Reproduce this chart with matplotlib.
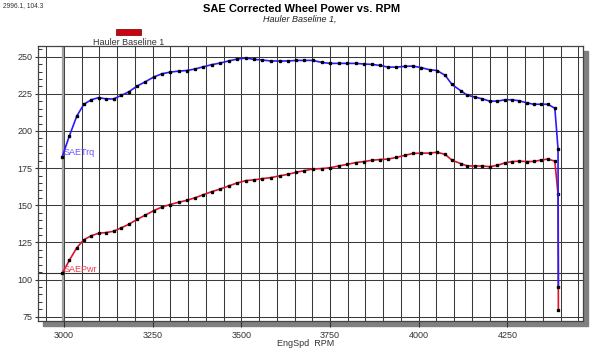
"""SAE corrected wheel power and torque vs engine speed."""

import matplotlib
matplotlib.use("Agg")
import matplotlib.pyplot as plt
from matplotlib.patches import Rectangle
from matplotlib.ticker import MultipleLocator

plt.rcParams["font.family"] = ["Liberation Sans", "DejaVu Sans"]

# Data
rpm = [2995, 3015, 3036, 3056, 3077, 3098, 3118, 3140, 3162, 3183,
       3206, 3229, 3253, 3276, 3299, 3323, 3346, 3369, 3393, 3416,
       3440, 3464, 3488, 3513, 3536, 3559, 3583, 3608, 3631, 3655,
       3678, 3701, 3728, 3751, 3775, 3798, 3822, 3845, 3869, 3891,
       3914, 3937, 3961, 3984, 4008, 4031, 4052, 4075, 4094, 4118,
       4137, 4159, 4180, 4200, 4222, 4243, 4263, 4284, 4305, 4324,
       4345, 4364, 4384, 4393, 4394]

sae_trq = [182.6, 196.6, 210.0, 218.0, 221.0, 222.5, 221.6, 221.6, 224.0, 226.4,
           230.2, 233.1, 236.3, 238.5, 239.6, 240.3, 240.7, 241.7, 243.2, 244.6,
           245.7, 247.1, 248.4, 249.1, 248.2, 247.8, 247.1, 247.1, 247.1, 247.5,
           247.5, 247.5, 246.1, 245.5, 245.5, 245.5, 245.5, 245.1, 244.8, 244.1,
           243.0, 243.0, 243.5, 243.7, 242.6, 241.2, 240.7, 237.4, 231.3, 227.2,
           224.1, 222.8, 221.6, 220.1, 220.1, 221.0, 221.0, 220.3, 218.9, 218.0,
           218.0, 218.0, 215.3, 188.0, 95.3]

sae_pwr = [104.1, 112.9, 121.4, 126.8, 129.5, 131.2, 131.6, 132.5, 134.9, 137.2,
           140.5, 143.3, 146.4, 148.8, 150.5, 152.0, 153.3, 155.0, 157.1, 159.1,
           160.9, 163.0, 165.0, 166.6, 167.1, 167.9, 168.6, 169.8, 170.8, 172.2,
           173.3, 174.4, 174.7, 175.3, 176.5, 177.5, 178.7, 179.4, 180.3, 180.8,
           181.1, 182.2, 183.6, 184.9, 185.1, 185.1, 185.7, 184.2, 180.3, 178.1,
           176.5, 176.4, 176.4, 176.0, 176.9, 178.5, 179.4, 179.7, 179.4, 179.5,
           180.4, 181.1, 179.7, 157.3, 79.7]

cursor_x, cursor_y = 2996.1, 104.3

W, H = 602, 349
fig = plt.figure(figsize=(W / 100, H / 100), dpi=100)
left, right, top, bottom = 38, 583, 46, 321
ax = fig.add_axes([left / W, 1 - bottom / H, (right - left) / W, (bottom - top) / H])
ax.set_zorder(1)

# drop shadow behind the plot frame
fig.patches.append(Rectangle(((left + 5) / W, 1 - (bottom + 5) / H),
                             (right - left) / W, (bottom - top) / H,
                             transform=fig.transFigure, color="#808080", zorder=-1))

ax.set_xlim(2926.7, 4463.4)
ax.set_ylim(72.1, 257.2)

ax.xaxis.set_major_locator(MultipleLocator(250))
ax.xaxis.set_minor_locator(MultipleLocator(50))
ax.yaxis.set_major_locator(MultipleLocator(25))
ax.yaxis.set_minor_locator(MultipleLocator(5))
ax.grid(True, which="major", color="#3a3a3a", lw=0.75)
ax.grid(True, which="minor", axis="x", color="#3a3a3a", lw=0.75)
ax.set_axisbelow(True)

ax.tick_params(axis="y", which="major", direction="out", length=2.5, width=0.8,
               pad=1.5, labelsize=6.5, colors="#333333")
ax.tick_params(axis="y", which="minor", direction="in", length=3, width=0.7, colors="#333333")
ax.tick_params(axis="x", which="major", direction="out", length=4.5, width=0.8,
               pad=3, labelsize=6.5, colors="#333333")
ax.tick_params(axis="x", which="minor", length=0)
for s in ax.spines.values():
    s.set_color("#444444")
    s.set_linewidth(0.9)

# cursor crosshair
ax.axvline(cursor_x, color="#a0a0a0", lw=1.6, zorder=1.5)
ax.axhline(cursor_y, color="#333333", lw=0.8, zorder=1.5)

ax.plot(rpm, sae_pwr, color="#e0102a", lw=1.2, marker="s", ms=1.6,
        mfc="black", mec="black", zorder=3)
ax.plot(rpm, sae_trq, color="#2a1aff", lw=1.2, marker="s", ms=1.6,
        mfc="black", mec="black", zorder=4)

ax.text(2998, 185.4, "SAETrq", color="#6a50ff", fontsize=6.5, va="center", ha="left", zorder=5)
ax.text(2998, 106.9, "SAEPwr", color="#e84050", fontsize=6.5, va="center", ha="left", zorder=5)

fig.text(306 / W, 1 - 343.5 / H, "EngSpd  RPM", fontsize=6.5, color="#333333",
         ha="center", va="center")

fig.text(302 / W, 1 - 9 / H, "SAE Corrected Wheel Power vs. RPM", fontsize=8,
         fontweight="bold", ha="center", va="center")
fig.text(300 / W, 1 - 19.5 / H, "Hauler Baseline 1,", fontsize=6.5, style="italic",
         ha="center", va="center", color="#222222")
fig.text(3 / W, 1 - 6 / H, "2996.1, 104.3", fontsize=4.8, ha="left", va="center",
         color="#333333")

# legend swatch
fig.patches.append(Rectangle((116 / W, 1 - 34.7 / H), 25 / W, 5.4 / H,
                             transform=fig.transFigure, facecolor="#d00010",
                             edgecolor="#600000", lw=0.5))
fig.text(128.5 / W, 1 - 42.3 / H, "Hauler Baseline 1", fontsize=6.5, ha="center",
         va="center", color="#333333")

fig.savefig("out.png", dpi=100)
